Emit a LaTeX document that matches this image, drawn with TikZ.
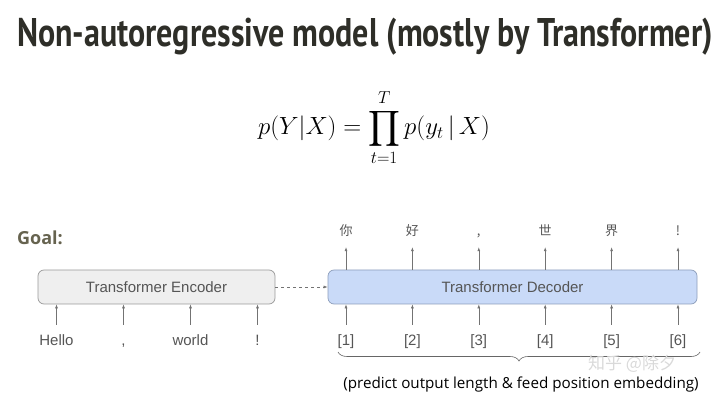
\documentclass[tikz,border=0pt]{standalone}
\usepackage{amsmath}
\usepackage{fontspec}
\setmainfont{Liberation Sans}
\newfontfamily\titlefont[FakeStretch=0.8]{PT Sans}
\newfontfamily\notefont{Open Sans}
\newfontfamily\cjk{Noto Sans CJK SC}
\usetikzlibrary{arrows.meta,decorations.pathreplacing}

\definecolor{titlegray}{HTML}{2E2E28}
\definecolor{goalgray}{HTML}{66634F}
\definecolor{labelgray}{HTML}{555555}
\definecolor{encfill}{HTML}{EFEFEF}
\definecolor{decfill}{HTML}{C9DAF8}
\definecolor{decline}{HTML}{8C9DBA}

\begin{document}
\begin{tikzpicture}[
    x=1pt, y=-1pt,
    blockbox/.style={draw=gray!80, line width=0.7pt, rounded corners=6pt,
        minimum height=34pt, text=labelgray,
        font=\fontsize{15}{18}\selectfont},
    tokenlabel/.style={text=labelgray, font=\fontsize{15}{18}\selectfont,
        text height=11pt, text depth=3pt, inner sep=2pt},
    outlabel/.style={text=labelgray, font=\cjk\fontsize{13}{16}\selectfont,
        text height=10pt, text depth=2pt, inner sep=2pt},
    flowarrow/.style={gray!90!black, line width=0.6pt, -{Latex[length=4pt, width=3pt]}},
]

\useasboundingbox (0,0) rectangle (720,395);

\def\ex{67}     % encoder token spacing
\def\dx{66.4}   % decoder token spacing

% ── Title and formula ───────────────────────────────────────
\node[anchor=base west, inner sep=0, text=titlegray,
    font=\titlefont\bfseries\fontsize{40}{44}\selectfont]
    (title) at (17,47) {Non-autoregressive model (mostly by Transformer)};

\node[font=\fontsize{26}{30}\selectfont] (formula) at (374,128)
    {$\displaystyle p(Y|X) = \prod_{t=1}^{T} p(y_t\,|\,X)$};

\node[anchor=base west, inner sep=0, text=goalgray,
    font=\notefont\bfseries\fontsize{18}{22}\selectfont]
    (goal) at (17,245) {Goal:};

% ── Encoder / decoder blocks ────────────────────────────────
\node[blockbox, fill=encfill, minimum width=237pt] (enc) at (156.5,287)
    {Transformer Encoder};
\node[blockbox, fill=decfill, draw=decline, minimum width=369pt] (dec) at (512.5,287)
    {Transformer Decoder};

\draw[flowarrow, dashed] (enc) -- (dec);

% ── Encoder inputs ──────────────────────────────────────────
\foreach \i/\w in {0/Hello, 1/{,}, 2/world, 3/!} {
    \node[tokenlabel] (in\i) at ({56.5+\i*\ex},341) {\w};
    \draw[flowarrow] ([yshift=7pt]in\i.north) -- (in\i.north |- enc.south);
}

% ── Decoder inputs (positions) ──────────────────────────────
\foreach \i in {1,...,6} {
    \node[tokenlabel] (pos\i) at ({346+(\i-1)*\dx},341) {[\i]};
    \draw[flowarrow] ([yshift=7pt]pos\i.north) -- (pos\i.north |- dec.south);
}

% ── Decoder outputs ─────────────────────────────────────────
\foreach \i/\w in {1/你, 2/好, 3/{,}, 4/世, 5/界, 6/!} {
    \node[outlabel] (out\i) at ({346+(\i-1)*\dx},232) {\w};
    \draw[flowarrow, shorten >=7pt] (out\i.south |- dec.north) -- (out\i.south);
}

% ── Brace and note ──────────────────────────────────────────
\draw[gray!80!black, line width=0.6pt,
    decorate, decoration={brace, mirror, amplitude=9pt}]
    (338,352) coordinate (bl) -- (700,352) coordinate (br);
\node[anchor=base, font=\notefont\fontsize{15.2}{18}\selectfont] (note)
    at (521,388) {(predict output length \& feed position embedding)};

\node[anchor=base west, inner sep=0, text=gray!30,
    font=\cjk\fontsize{17}{20}\selectfont] (mark) at (588,369) {知乎 @除夕};

\end{tikzpicture}
\end{document}
